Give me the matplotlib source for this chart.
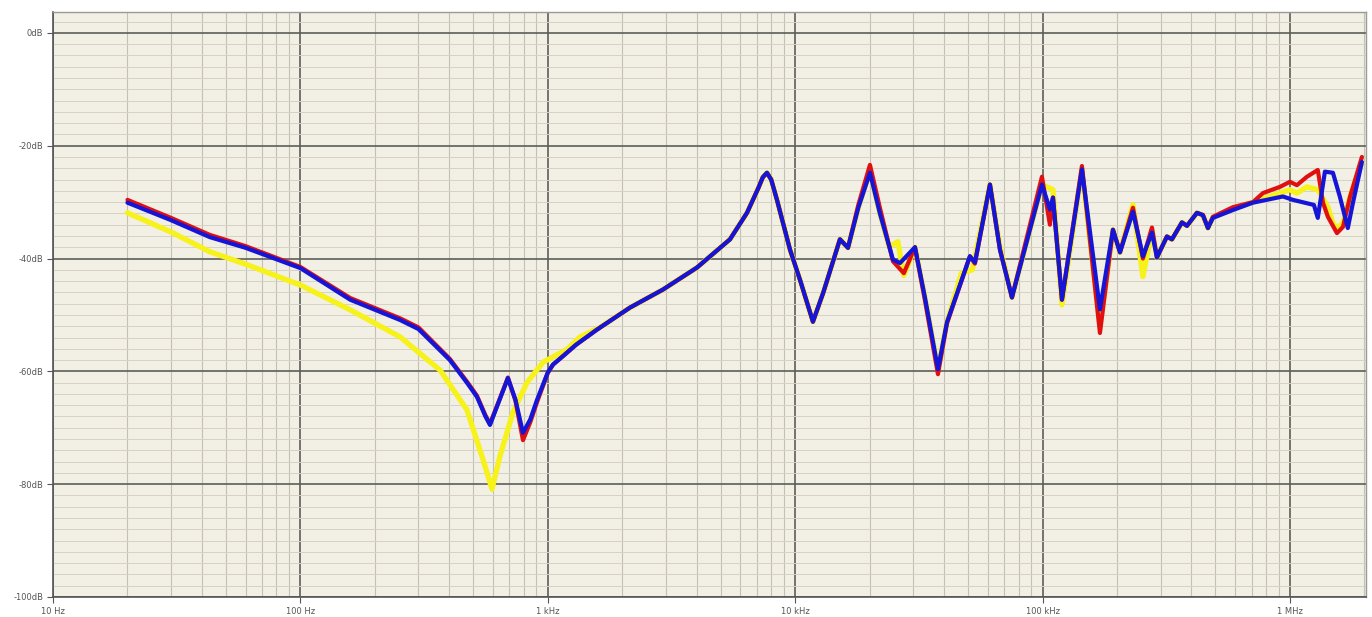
import matplotlib
matplotlib.use("Agg")
import matplotlib.pyplot as plt
from matplotlib.ticker import FixedLocator, NullFormatter

# ---------------- data ----------------
freq_blue = [20, 30, 43, 60, 100, 159, 253, 300, 402, 471, 517, 560, 584, 620, 690,
             740, 794, 850, 904, 1000, 1050, 1152, 1300, 1581, 2149, 2922, 4010, 5451, 6387,
             7100, 7400, 7691, 8000, 8442, 9528, 10500, 11800, 13000, 15170, 16350, 18000,
             20060, 22000, 24850, 26530, 30500, 33500, 37780, 41080, 50870, 53300,
             61300, 67260, 75220, 99450, 107100, 110200, 119800, 144300, 170600,
             192600, 205600, 232000, 254500, 276900, 290000, 318300, 333400,
             366000, 383500, 420900, 444900, 466200, 488300, 588300, 708800,
             937000, 1028000, 1250000, 1296000, 1385000, 1492000, 1593000,
             1714000, 1798000, 1954000]
db_blue = [-30.1, -33.2, -36.2, -38.1, -41.7, -47.3, -50.9, -52.5, -58.0, -62.0,
           -64.5, -68.0, -69.5, -66.5, -61.2, -65.0, -70.9, -68.5, -65.1, -60.2,
           -58.8, -57.3, -55.3, -52.6, -48.7, -45.5, -41.6, -36.6, -31.9, -27.5,
           -25.6, -24.8, -26.0, -29.6,
           -38.4, -44.0, -51.2, -46.0, -36.6, -38.1, -31.0, -24.8, -32.0, -40.2,
           -40.8, -38.0, -47.0, -59.6, -51.3, -39.6, -40.7, -26.9, -38.4, -46.9,
           -26.9, -31.3, -29.2, -47.3, -24.2, -49.0, -34.9, -38.9, -31.7, -39.6,
           -35.4, -39.8, -36.1, -36.6, -33.6, -34.2, -31.9, -32.3, -34.6, -32.8,
           -31.4, -30.1, -29.0, -29.6, -30.5, -32.8, -24.6, -24.8, -29.1, -34.6,
           -30.1, -22.9]

freq_red = [20, 30, 43, 60, 100, 159, 253, 300, 402, 471, 517, 560, 584, 620, 690,
            740, 794, 850, 904, 1000, 1050, 1152, 1300, 1581, 2149, 2922, 4010, 5451, 6387,
            7100, 7400, 7691, 8000, 8442, 9528, 10500, 11800, 13000, 15170, 16350, 18000,
            20060, 22000, 24850, 27500, 30500, 33500, 37780, 41080, 50870, 53300,
            61300, 67260, 75220, 99450, 107100, 110200, 119800, 144300, 170600,
            192600, 205600, 232000, 254500, 276900, 290000, 318300, 333400,
            366000, 383500, 420900, 444900, 466200, 488300, 588300, 708800,
            778000, 911000, 1000000, 1067000, 1172000, 1296000, 1360000, 1424000,
            1549000, 1638000, 1748000, 1954000]
db_red = [-29.6, -32.8, -35.8, -37.8, -41.5, -47.0, -50.6, -52.2, -57.8, -61.8,
          -64.3, -67.8, -69.3, -66.4, -61.1, -65.2, -72.2, -69.0, -65.5, -60.3,
          -58.8, -57.3, -55.3, -52.6, -48.7, -45.5, -41.6, -36.6, -31.9, -27.5,
          -25.6, -24.8, -26.0, -29.6,
          -38.4, -44.0, -51.2, -46.0, -36.6, -38.1, -30.5, -23.4, -31.0, -40.5,
          -42.6, -38.0, -47.5, -60.5, -51.5, -39.6, -40.9, -26.9, -38.4, -46.9,
          -25.5, -34.0, -29.2, -47.3, -23.6, -53.2, -34.9, -38.9, -31.0, -40.0,
          -34.5, -39.8, -36.1, -36.6, -33.6, -34.2, -31.9, -32.3, -34.6, -32.6,
          -30.9, -30.0, -28.4, -27.3, -26.4, -27.0, -25.5, -24.3, -30.1, -32.6,
          -35.5, -34.4, -29.1, -22.0]

freq_yellow = [20, 30, 43, 60, 100, 159, 253, 367, 471, 547, 595, 641, 723, 824,
               956, 1196, 1350, 1626, 2149, 2922, 4010, 5451, 6387, 7100, 7400, 7691,
               8000, 8442, 9528, 10500, 11800, 13000, 15170, 16350, 18000, 20060, 22000,
               24000, 26000, 27500, 30500, 33500, 37780, 41080, 47000, 52000,
               61300, 67260, 75220, 99450, 110200, 119800, 144300, 170600,
               192600, 205600, 232000, 254500, 276900, 290000, 318300, 333400,
               366000, 383500, 420900, 444900, 466200, 488300, 588300, 708800,
               911000, 1000000, 1067000, 1172000, 1296000, 1424000, 1492000,
               1549000, 1638000, 1748000, 1954000]
db_yellow = [-31.9, -35.3, -38.8, -41.0, -44.7, -49.1, -53.9, -59.8, -66.8, -75.6,
             -80.9, -75.0, -67.3, -62.0, -58.4, -56.1, -53.9, -52.2, -48.7, -45.5,
             -41.6, -36.6, -31.9, -27.5, -25.6, -24.8, -26.0, -29.6, -38.4, -44.0,
             -51.2, -46.0, -36.6, -38.1, -31.0, -24.5, -32.0, -38.0, -37.0, -43.0,
             -38.0, -47.0, -59.6, -51.3, -42.6, -42.0, -26.9, -37.9, -46.9, -26.9,
             -27.8, -48.2, -24.2, -52.0, -34.9, -38.9, -30.5, -43.2, -35.0, -39.8,
             -36.1, -36.6, -33.6, -34.2, -31.9, -32.3, -34.6, -32.7, -31.2, -30.0,
             -28.4, -27.8, -28.4, -27.3, -27.8, -30.9, -33.7, -34.6, -33.7, -29.1,
             -23.0]

x_tick_values = [10, 100, 1000, 10000, 100000, 1000000]
x_tick_labels = ["10 Hz", "100 Hz", "1 kHz", "10 kHz", "100 kHz", "1 MHz"]
y_tick_values = [0, -20, -40, -60, -80, -100]
y_tick_labels = ["0dB", "-20dB", "-40dB", "-60dB", "-80dB", "-100dB"]

# ---------------- figure ----------------
fig = plt.figure(figsize=(13.72, 6.17), dpi=100)
fig.patch.set_facecolor("white")
ax = fig.add_axes([53 / 1372, 1 - 597 / 617, (1366 - 53) / 1372, (597 - 12) / 617])
ax.set_facecolor("#f2efe4")

ax.set_xscale("log")
ax.set_xlim(10, 2.03e6)
ax.set_ylim(-100, 3.7)

# grid
minor_x = [m * 10 ** d for d in range(1, 7) for m in range(2, 10) if m * 10 ** d < 2.03e6]
ax.xaxis.set_major_locator(FixedLocator(x_tick_values))
ax.xaxis.set_minor_locator(FixedLocator(minor_x))
ax.xaxis.set_minor_formatter(NullFormatter())
ax.yaxis.set_major_locator(FixedLocator(y_tick_values))
ax.yaxis.set_minor_locator(FixedLocator([v for v in range(-98, 4, 2) if v % 20 != 0]))
ax.grid(which="minor", axis="x", color="#c4c1b3", linewidth=0.8)
ax.grid(which="minor", axis="y", color="#d6d3c6", linewidth=0.7)
ax.grid(which="major", color="#5e5e5a", linewidth=1.2)
ax.set_axisbelow(True)

ax.set_xticklabels(x_tick_labels)
ax.set_yticklabels(y_tick_labels)
ax.tick_params(which="major", length=4, width=0.8, color="#555555",
               labelsize=6, labelcolor="#555555", pad=3)
ax.tick_params(which="minor", length=0)

for s in ["top", "right"]:
    ax.spines[s].set_color("#9a9a96")
    ax.spines[s].set_linewidth(1.0)
for s in ["left", "bottom"]:
    ax.spines[s].set_color("#555555")
    ax.spines[s].set_linewidth(1.2)

# curves
ax.plot(freq_yellow, db_yellow, color="#f6f21a", linewidth=3.8, solid_joinstyle="round",
        solid_capstyle="round", zorder=3)
ax.plot(freq_red, db_red, color="#e01010", linewidth=3.0, solid_joinstyle="round",
        solid_capstyle="round", zorder=4)
ax.plot(freq_blue, db_blue, color="#1515d8", linewidth=3.0, solid_joinstyle="round",
        solid_capstyle="round", zorder=5)

fig.savefig("out.png", dpi=100)
